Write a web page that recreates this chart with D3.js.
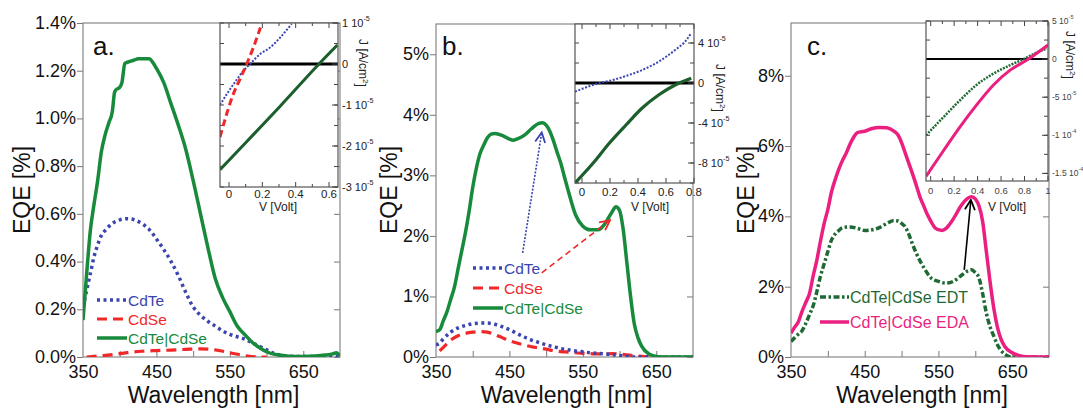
<!DOCTYPE html>
<html>
<head>
<meta charset="utf-8">
<script src="https://cdn.jsdelivr.net/npm/d3@7"></script>
<style>
  body { margin: 0; background: #fff; }
  text { font-family: "Liberation Sans", Arial, sans-serif; }
</style>
</head>
<body>
<svg id="chart" width="1083" height="409"></svg>
<script>
// ---------- data: EQE spectra (wavelength nm, EQE %) ----------
const xTickLabels = [350, 450, 550, 650];
const yTicksA = [0, 0.2, 0.4, 0.6, 0.8, 1.0, 1.2, 1.4];
const yTicksB = [0, 1, 2, 3, 4, 5];
const yTicksC = [0, 2, 4, 6, 8];

// panel a
const wlA_tandem = [350,355,360,365,370,375,380,385,390,393,395,400,403,407,410,415,420,425,440,445,450,460,470,480,490,500,510,520,530,540,550,560,570,580,590,600,620,640,660,680,690,695,700];
const eqeA_tandem = [0.155,0.35,0.53,0.64,0.74,0.86,0.93,0.98,1.03,1.11,1.12,1.13,1.15,1.23,1.235,1.24,1.245,1.25,1.25,1.235,1.21,1.15,1.06,0.97,0.87,0.74,0.60,0.46,0.33,0.25,0.19,0.13,0.095,0.063,0.04,0.022,0.007,0.002,0.003,0.008,0.013,0.018,0.005];
const wlA_cdte = [350,355,360,365,370,375,380,390,400,410,420,430,440,450,460,470,480,490,500,510,520,530,540,550,560,570,580,590,600,610,620,640,660,680,700];
const eqeA_cdte = [0.21,0.28,0.35,0.42,0.47,0.51,0.53,0.56,0.575,0.58,0.575,0.56,0.535,0.495,0.45,0.40,0.34,0.27,0.21,0.175,0.15,0.13,0.11,0.095,0.085,0.075,0.06,0.045,0.03,0.015,0.007,0.002,0.002,0.003,0.005];
const wlA_cdse = [355,370,390,410,430,450,470,490,510,530,550,570,590,600];
const eqeA_cdse = [0,0.004,0.01,0.018,0.024,0.027,0.029,0.032,0.034,0.03,0.018,0.006,0,0];

// panel b
const wlB_tandem = [350,355,360,365,370,375,380,385,390,395,400,405,410,415,420,425,430,440,450,455,460,470,480,490,495,500,505,510,515,520,525,530,540,550,560,570,575,580,585,590,595,600,605,610,615,620,625,630,640,650,660,700];
const eqeB_tandem = [0.42,0.45,0.6,0.75,0.95,1.15,1.45,1.75,2.05,2.4,2.8,3.12,3.36,3.5,3.62,3.68,3.69,3.66,3.6,3.58,3.6,3.66,3.77,3.86,3.87,3.83,3.73,3.57,3.38,3.2,2.97,2.75,2.35,2.16,2.1,2.1,2.13,2.2,2.3,2.4,2.48,2.42,2.1,1.55,1.0,0.55,0.32,0.18,0.05,0.01,0,0];
const wlB_cdte = [350,355,360,370,380,390,400,410,420,430,440,450,460,470,480,490,500,510,520,530,540,550,560,570,580,590,600,610,620,700];
const eqeB_cdte = [0.2,0.23,0.3,0.41,0.48,0.52,0.55,0.56,0.56,0.54,0.5,0.45,0.39,0.33,0.28,0.24,0.2,0.17,0.14,0.12,0.1,0.085,0.07,0.06,0.05,0.04,0.025,0.01,0,0];
const wlB_cdse = [355,360,370,380,390,400,410,420,430,440,450,460,470,480,490,500,510,520,530,540,550,560,570,580,590,600,610,620,630,640,660,700];
const eqeB_cdse = [0.1,0.16,0.28,0.35,0.39,0.41,0.42,0.41,0.37,0.32,0.27,0.23,0.2,0.17,0.15,0.13,0.105,0.09,0.08,0.07,0.06,0.055,0.05,0.05,0.055,0.05,0.035,0.02,0.01,0.005,0,0];

// panel c
const wlC_eda = [350,355,360,365,370,375,380,385,390,395,400,405,410,415,420,425,430,435,440,450,460,470,480,490,495,500,505,510,515,520,525,530,535,540,545,550,555,560,565,570,575,580,585,590,595,600,605,610,615,620,625,630,635,640,650,660,670,700];
const eqeC_eda = [0.68,0.85,1.0,1.3,1.55,1.8,2.3,2.75,3.3,3.8,4.2,4.7,5.05,5.35,5.6,5.8,6.05,6.25,6.38,6.42,6.5,6.53,6.52,6.42,6.32,6.1,5.8,5.5,5.2,4.88,4.55,4.3,4.05,3.85,3.68,3.62,3.6,3.65,3.77,3.92,4.1,4.28,4.42,4.52,4.56,4.5,4.3,3.85,3.0,2.15,1.4,0.85,0.5,0.3,0.12,0.04,0.01,0];
const wlC_edt = [350,355,360,365,370,375,380,385,390,395,400,405,410,415,420,430,440,450,460,470,480,490,495,500,505,510,515,520,530,540,550,560,570,580,590,595,600,605,610,615,620,625,630,640,650,700];
const eqeC_edt = [0.44,0.55,0.65,0.75,0.95,1.2,1.45,1.85,2.3,2.65,3.0,3.33,3.5,3.6,3.68,3.7,3.66,3.6,3.62,3.68,3.8,3.88,3.87,3.8,3.7,3.48,3.2,2.95,2.55,2.25,2.15,2.1,2.15,2.3,2.45,2.48,2.4,2.25,1.8,1.25,0.86,0.6,0.35,0.08,0,0];

// arrows (from / to, in wavelength nm and EQE %)
const arrowB_cdte = [[468, 1.72], [494, 3.71]];
const arrowB_cdse = [[494, 1.39], [587, 2.26]];
const arrowC = [[585, 2.48], [594, 4.47]];

// ---------- data: inset J-V curves (V in volt, J in A/cm2) ----------
const vA_tandem = [-0.054, 0.1, 0.3, 0.54, 0.65];
const jA_tandem = [-2.58e-5, -1.92e-5, -1.06e-5, 0, 0.46e-5];
const vA_cdte = [-0.054, -0.014, 0.026, 0.086, 0.126, 0.186, 0.246, 0.306, 0.376];
const jA_cdte = [-1.0e-5, -0.74e-5, -0.5e-5, -0.17e-5, 0, 0.24e-5, 0.4e-5, 0.64e-5, 0.98e-5];
const vA_cdse = [-0.054, -0.014, 0.026, 0.066, 0.106, 0.146, 0.196];
const jA_cdse = [-1.78e-5, -1.22e-5, -0.73e-5, -0.37e-5, 0, 0.4e-5, 0.98e-5];

const vB_cdte = [-0.05, 0.056, 0.126, 0.22, 0.314, 0.43, 0.547, 0.665, 0.746, 0.78];
const jB_cdte = [-0.87e-5, -0.3e-5, 0, 0.3e-5, 0.7e-5, 1.3e-5, 2.13e-5, 3.3e-5, 4.3e-5, 5.0e-5];
const vB_tandem = [-0.05, 0.08, 0.196, 0.314, 0.43, 0.547, 0.665, 0.78];
const jB_tandem = [-10e-5, -8e-5, -6e-5, -4.2e-5, -2.5e-5, -1.2e-5, -0.2e-5, 0.47e-5];

const vC_edt = [-0.04, 0.11, 0.25, 0.39, 0.535, 0.677, 0.79, 0.9, 0.99];
const jC_edt = [-10e-5, -7.6e-5, -5.4e-5, -3.4e-5, -1.9e-5, -0.8e-5, 0, 0.83e-5, 1.4e-5];
const vC_eda = [-0.04, 0.11, 0.25, 0.39, 0.535, 0.677, 0.82, 1.0];
const jC_eda = [-15.4e-5, -12e-5, -8.9e-5, -6.05e-5, -3.4e-5, -1.45e-5, -0.13e-5, 1.84e-5];

const ivXTicksA = [0, 0.2, 0.4, 0.6];
const ivXTicksB = [0, 0.2, 0.4, 0.6, 0.8];
const ivXTicksC = [0, 0.2, 0.4, 0.6, 0.8, 1];
const ivYTicksA = [[1e-5, "1 10", "-5"], [0, "0", ""], [-1e-5, "-1 10", "-5"], [-2e-5, "-2 10", "-5"], [-3e-5, "-3 10", "-5"]];
const ivYTicksB = [[4e-5, "4 10", "-5"], [0, "0", ""], [-4e-5, "-4 10", "-5"], [-8e-5, "-8 10", "-5"]];
const ivYTicksC = [[5e-5, "5 10", "-5"], [0, "0", ""], [-5e-5, "-5 10", "-5"], [-1e-4, "-1 10", "-4"], [-1.5e-4, "-1.5 10", "-4"]];

// ---------- colours ----------
const BLUE = "#3a45b0", RED = "#f0282a", GREEN = "#178a3c", DKGREEN = "#1c5e2c", PINK = "#ea1f80", EDT = "#1f6a34";

const zip = (a, b) => a.map((v, i) => [v, b[i]]);
const svg = d3.select("#chart");
svg.append("rect").attr("width", 1083).attr("height", 409).attr("fill", "#fff");
const defs = svg.append("defs");

function addMarker(id, color) {
  defs.append("marker")
    .attr("id", id).attr("viewBox", "0 0 12 12").attr("refX", 11).attr("refY", 6)
    .attr("markerWidth", 12).attr("markerHeight", 12).attr("markerUnits", "userSpaceOnUse")
    .attr("orient", "auto")
    .append("path").attr("d", "M1,1 L11,6 L1,11").attr("fill", "none")
    .attr("stroke", color).attr("stroke-width", 1.8).attr("stroke-dasharray", "none");
}
addMarker("arBlue", BLUE); addMarker("arRed", RED); addMarker("arBlack", "#000");

const BOTTOM = 357;

function drawPanel(p) {
  const x = d3.scaleLinear().domain([350, 700]).range([p.left, p.right]);
  const y = d3.scaleLinear().domain([0, p.yMax]).range([BOTTOM, p.top]);
  const g = svg.append("g");

  defs.append("clipPath").attr("id", "clip" + p.id)
    .append("rect").attr("x", p.left).attr("y", p.top)
    .attr("width", p.right - p.left).attr("height", BOTTOM - p.top);

  // left axis, ticks outward
  const ay = g.append("g").attr("transform", `translate(${p.left},0)`)
    .call(d3.axisLeft(y).tickValues(p.yTicks).tickSize(6).tickPadding(1).tickFormat(p.fmt));
  ay.select(".domain").remove();
  ay.selectAll("line").attr("stroke", "#777");
  ay.selectAll("text").attr("font-size", 18).attr("fill", "#111").attr("dy", "0.3em");

  // right axis, ticks inward
  const ar = g.append("g").attr("transform", `translate(${p.right},0)`)
    .call(d3.axisLeft(y).tickValues(p.yTicks).tickSize(6).tickFormat(""));
  ar.select(".domain").remove();
  ar.selectAll("line").attr("stroke", "#777");

  // bottom: inward minor ticks + labels
  const ab = g.append("g").attr("transform", `translate(0,${BOTTOM})`)
    .call(d3.axisTop(x).tickValues(d3.range(400, 700, 50)).tickSize(6).tickFormat(""));
  ab.select(".domain").remove();
  ab.selectAll("line").attr("stroke", "#777");
  const al = g.append("g").attr("transform", `translate(0,${BOTTOM})`)
    .call(d3.axisBottom(x).tickValues(xTickLabels).tickSize(0).tickPadding(8).tickFormat(d3.format("d")));
  al.select(".domain").remove();
  al.selectAll("text").attr("font-size", 18).attr("fill", "#111");

  // frame
  g.append("rect").attr("x", p.left).attr("y", p.top)
    .attr("width", p.right - p.left).attr("height", BOTTOM - p.top)
    .attr("fill", "none").attr("stroke", "#888").attr("stroke-width", 1.2);

  // curves
  const line = d3.line().x(d => x(d[0])).y(d => y(d[1])).curve(d3.curveMonotoneX);
  const cg = g.append("g").attr("clip-path", `url(#clip${p.id})`);
  p.series.forEach(s => {
    cg.append("path").datum(s.data).attr("d", line)
      .attr("fill", "none").attr("stroke", s.color).attr("stroke-width", s.width)
      .attr("stroke-dasharray", s.dash || null).attr("stroke-linejoin", "round");
  });

  // arrows
  (p.arrows || []).forEach(a => {
    g.append("line")
      .attr("x1", x(a.pts[0][0])).attr("y1", y(a.pts[0][1]))
      .attr("x2", x(a.pts[1][0])).attr("y2", y(a.pts[1][1]))
      .attr("stroke", a.color).attr("stroke-width", a.width)
      .attr("stroke-dasharray", a.dash || null)
      .attr("marker-end", `url(#${a.marker})`);
  });

  // legend
  p.legend.items.forEach((s, i) => {
    const ly = p.legend.y + i * p.legend.step;
    g.append("line").attr("x1", p.legend.x).attr("x2", p.legend.x + p.legend.len)
      .attr("y1", ly).attr("y2", ly).attr("stroke", s.color)
      .attr("stroke-width", s.width).attr("stroke-dasharray", s.dash || null);
    g.append("text").attr("x", p.legend.x + p.legend.len + 1).attr("y", ly).attr("dy", "0.36em")
      .attr("font-size", p.legend.size).attr("fill", s.color).text(s.name);
  });

  // titles
  g.append("text").attr("transform", `translate(${p.yTitleX},190) rotate(-90)`)
    .attr("text-anchor", "middle").attr("dy", "0.36em").attr("font-size", 23).attr("fill", "#111").text("EQE [%]");
  g.append("text").attr("x", (p.left + p.right) / 2 + 2).attr("y", 403)
    .attr("text-anchor", "middle").attr("font-size", 23).attr("fill", "#111").text("Wavelength [nm]");
  g.append("text").attr("x", p.tagX).attr("y", 55).attr("font-size", 26).attr("fill", "#111").text(p.tag);
}

function drawInset(q) {
  const x = d3.scaleLinear().domain(q.xDom).range([q.left, q.right]);
  const y = d3.scaleLinear().domain(q.yDom).range([q.bottom, q.top]);
  const g = svg.append("g");
  g.append("rect").attr("x", q.left).attr("y", q.top)
    .attr("width", q.right - q.left).attr("height", q.bottom - q.top).attr("fill", "#fff");

  defs.append("clipPath").attr("id", "iclip" + q.id)
    .append("rect").attr("x", q.left).attr("y", q.top)
    .attr("width", q.right - q.left).attr("height", q.bottom - q.top);

  // inward ticks on all four sides
  const tk = g.append("g").attr("stroke", "#444").attr("stroke-width", 1);
  q.xMinor.forEach(v => {
    const L = q.xTicks.includes(+v.toFixed(3)) ? 5 : 3;
    tk.append("line").attr("x1", x(v)).attr("x2", x(v)).attr("y1", q.bottom).attr("y2", q.bottom - L);
    tk.append("line").attr("x1", x(v)).attr("x2", x(v)).attr("y1", q.top).attr("y2", q.top + L);
  });
  q.yMinor.forEach(v => {
    const L = 4;
    tk.append("line").attr("y1", y(v)).attr("y2", y(v)).attr("x1", q.left).attr("x2", q.left + L);
    tk.append("line").attr("y1", y(v)).attr("y2", y(v)).attr("x1", q.right).attr("x2", q.right - L);
  });

  const line = d3.line().x(d => x(d[0])).y(d => y(d[1])).curve(d3.curveMonotoneX);
  const cg = g.append("g").attr("clip-path", `url(#iclip${q.id})`);
  cg.append("line").attr("x1", q.left).attr("x2", q.right).attr("y1", y(0)).attr("y2", y(0))
    .attr("stroke", "#000").attr("stroke-width", q.zeroWidth);
  q.series.forEach(s => {
    cg.append("path").datum(s.data).attr("d", line)
      .attr("fill", "none").attr("stroke", s.color).attr("stroke-width", s.width)
      .attr("stroke-dasharray", s.dash || null);
  });

  g.append("rect").attr("x", q.left).attr("y", q.top)
    .attr("width", q.right - q.left).attr("height", q.bottom - q.top)
    .attr("fill", "none").attr("stroke", "#555").attr("stroke-width", 1.2);

  // x tick labels
  q.xTicks.forEach(v => {
    g.append("text").attr("x", x(v)).attr("y", q.xLabelY).attr("text-anchor", "middle")
      .attr("font-size", q.tickSize).attr("fill", q.tickColor).text(v === 0 ? "0" : String(v));
  });
  g.append("text").attr("x", q.vLabelX).attr("y", 211).attr("text-anchor", "middle")
    .attr("font-size", 12).attr("fill", "#222").text("V [Volt]");

  // y tick labels on the right, mantissa + superscript exponent
  q.yTicks.forEach(t => {
    const tx = g.append("text").attr("x", q.right + 4).attr("y", y(t[0])).attr("dy", "0.36em")
      .attr("font-size", q.ySize).attr("fill", q.tickColor).text(t[1]);
    if (t[2]) tx.append("tspan").attr("font-size", q.ySize * 0.65).attr("dy", "-0.9em").text(t[2]);
    g.append("line").attr("x1", q.right).attr("x2", q.right - 6).attr("y1", y(t[0])).attr("y2", y(t[0]))
      .attr("stroke", "#444");
  });

  const jt = g.append("text").attr("transform", `translate(${q.jX},${q.jY}) rotate(90)`)
    .attr("text-anchor", "middle").attr("font-size", 12).attr("fill", "#222").text("J [A/cm");
  jt.append("tspan").attr("font-size", 8).attr("dy", "-0.5em").text("2");
  jt.append("tspan").attr("dy", "0.5em").text("]");
}

const styles = {
  cdte: { name: "CdTe", color: BLUE, width: 3.5, dash: "3,3.5" },
  cdse: { name: "CdSe", color: RED, width: 3.2, dash: "10,6" },
  tandem: { name: "CdTe|CdSe", color: GREEN, width: 3.5 }
};

drawPanel({
  id: "a", left: 83, right: 340, top: 23, yMax: 1.4, yTicks: yTicksA,
  fmt: d => d.toFixed(1) + "%", tag: "a.", tagX: 93, yTitleX: 22,
  series: [
    { ...styles.cdse, data: zip(wlA_cdse, eqeA_cdse) },
    { ...styles.cdte, data: zip(wlA_cdte, eqeA_cdte) },
    { ...styles.tandem, data: zip(wlA_tandem, eqeA_tandem) }
  ],
  legend: { x: 97, y: 300, step: 19, len: 30, size: 15.5, items: [styles.cdte, styles.cdse, styles.tandem] }
});

drawPanel({
  id: "b", left: 436, right: 693, top: 24, yMax: 5.5, yTicks: yTicksB,
  fmt: d => d + "%", tag: "b.", tagX: 442, yTitleX: 389,
  series: [
    { ...styles.cdse, data: zip(wlB_cdse, eqeB_cdse) },
    { ...styles.cdte, data: zip(wlB_cdte, eqeB_cdte) },
    { ...styles.tandem, data: zip(wlB_tandem, eqeB_tandem) }
  ],
  arrows: [
    { pts: arrowB_cdte, color: BLUE, width: 1.6, dash: "2,1.5", marker: "arBlue" },
    { pts: arrowB_cdse, color: RED, width: 1.6, dash: "6,4", marker: "arRed" }
  ],
  legend: { x: 473, y: 268, step: 20, len: 30, size: 15.5, items: [styles.cdte, styles.cdse, styles.tandem] }
});

const edtStyle = { name: "CdTe|CdSe EDT", color: EDT, width: 3.5, dash: "6,2.5,2.5,2.5" };
const edaStyle = { name: "CdTe|CdSe EDA", color: PINK, width: 3.5 };
drawPanel({
  id: "c", left: 791, right: 1049, top: 23, yMax: 9.5, yTicks: yTicksC,
  fmt: d => d + "%", tag: "c.", tagX: 807, yTitleX: 746,
  series: [
    { ...edtStyle, data: zip(wlC_edt, eqeC_edt) },
    { ...edaStyle, data: zip(wlC_eda, eqeC_eda) }
  ],
  arrows: [{ pts: arrowC, color: "#000", width: 1.6, marker: "arBlack" }],
  legend: { x: 820, y: 297, step: 25, len: 29, size: 16, items: [edtStyle, edaStyle] }
});

drawInset({
  id: "a", left: 220, right: 338, top: 23, bottom: 187,
  xDom: [-0.054, 0.654], yDom: [-3e-5, 1e-5],
  xTicks: ivXTicksA, xMinor: d3.range(0, 0.66, 0.1), yMinor: d3.range(-3e-5, 1.01e-5, 0.5e-5),
  yTicks: ivYTicksA, xLabelY: 198, vLabelX: 278, tickSize: 11.5, ySize: 11, tickColor: "#222",
  jX: 359, jY: 63, zeroWidth: 3,
  series: [
    { color: DKGREEN, width: 3, data: zip(vA_tandem, jA_tandem) },
    { color: BLUE, width: 2, dash: "2,1.6", data: zip(vA_cdte, jA_cdte) },
    { color: RED, width: 3, dash: "7,4", data: zip(vA_cdse, jA_cdse) }
  ]
});

drawInset({
  id: "b", left: 575, right: 694, top: 24, bottom: 183,
  xDom: [-0.05, 0.8], yDom: [-1e-4, 5.9e-5],
  xTicks: ivXTicksB, xMinor: d3.range(0, 0.81, 0.1), yMinor: d3.range(-1e-4, 5.9e-5, 2e-5),
  yTicks: ivYTicksB, xLabelY: 196, vLabelX: 650, tickSize: 11.5, ySize: 11, tickColor: "#222",
  jX: 716, jY: 88, zeroWidth: 3,
  series: [
    { color: DKGREEN, width: 3.2, data: zip(vB_tandem, jB_tandem) },
    { color: BLUE, width: 2, dash: "2,1.6", data: zip(vB_cdte, jB_cdte) }
  ]
});

drawInset({
  id: "c", left: 926, right: 1048, top: 21, bottom: 181,
  xDom: [-0.04, 1], yDom: [-1.6e-4, 5e-5],
  xTicks: ivXTicksC, xMinor: d3.range(0, 1.01, 0.1), yMinor: d3.range(-1.5e-4, 5.1e-5, 2.5e-5),
  yTicks: ivYTicksC, xLabelY: 194, vLabelX: 1007, tickSize: 9.5, ySize: 8.5, tickColor: "#444",
  jX: 1066, jY: 55, zeroWidth: 2,
  series: [
    { color: EDT, width: 2.5, dash: "2,1.2", data: zip(vC_edt, jC_edt) },
    { color: PINK, width: 3, data: zip(vC_eda, jC_eda) }
  ]
});
</script>
</body>
</html>
